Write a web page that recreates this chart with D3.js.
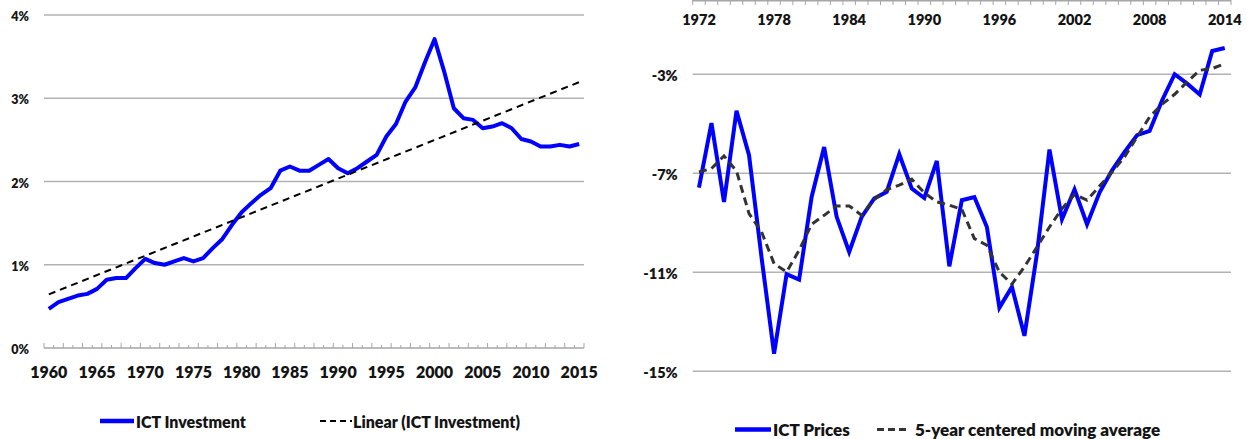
<!DOCTYPE html>
<html><head><meta charset="utf-8">
<script src="https://cdn.jsdelivr.net/npm/d3@7"></script>
<style>
body{margin:0;background:#fff}
svg{display:block}
text{font-family:Lato,'Open Sans',sans-serif;font-weight:800}
</style>
</head><body>
<svg id="chart" width="1247" height="439"></svg>
<script>
// ---------- Left chart data: ICT investment (% of GDP) ----------
const investYears = [1960,1961,1962,1963,1964,1965,1966,1967,1968,1969,
  1970,1971,1972,1973,1974,1975,1976,1977,1978,1979,
  1980,1981,1982,1983,1984,1985,1986,1987,1988,1989,
  1990,1991,1992,1993,1994,1995,1996,1997,1998,1999,
  2000,2001,2002,2003,2004,2005,2006,2007,2008,2009,
  2010,2011,2012,2013,2014,2015];
const ictInvestment = [0.47,0.55,0.59,0.63,0.65,0.71,0.82,0.84,0.84,0.96,
  1.07,1.02,1.00,1.04,1.08,1.04,1.08,1.20,1.31,1.48,
  1.63,1.74,1.84,1.92,2.13,2.18,2.13,2.13,2.20,2.27,
  2.16,2.10,2.16,2.24,2.32,2.54,2.69,2.96,3.13,3.43,
  3.71,3.32,2.88,2.76,2.74,2.64,2.66,2.70,2.64,2.51,
  2.48,2.42,2.42,2.44,2.42,2.45];
const investTickYears = [1960,1965,1970,1975,1980,1985,1990,1995,2000,2005,2010,2015];
const investYTicks = [0,1,2,3,4];
const investLegend = ["ICT Investment","Linear (ICT Investment)"];

// ---------- Right chart data: ICT prices (% change) ----------
const priceYears = [1972,1973,1974,1975,1976,1977,1978,1979,1980,1981,
  1982,1983,1984,1985,1986,1987,1988,1989,1990,1991,
  1992,1993,1994,1995,1996,1997,1998,1999,2000,2001,
  2002,2003,2004,2005,2006,2007,2008,2009,2010,2011,
  2012,2013,2014];
const ictPrices = [-7.58,-4.97,-8.16,-4.48,-6.27,-10.4,-14.29,-11.08,-11.30,-7.96,
  -5.94,-8.76,-10.18,-8.76,-8.02,-7.75,-6.23,-7.62,-8.00,-6.50,
  -10.76,-8.09,-7.96,-9.17,-12.43,-11.59,-13.57,-10.25,-6.04,-8.86,
  -7.66,-9.06,-7.78,-6.88,-6.14,-5.46,-5.29,-4.05,-3.00,-3.38,
  -3.82,-2.06,-1.94];
const movingAverage = [-6.95,-6.81,-6.30,-6.91,-8.63,-9.37,-10.65,-10.99,-10.11,-9.06,
  -8.70,-8.32,-8.32,-8.70,-8.06,-7.66,-7.48,-7.24,-7.79,-8.16,
  -8.29,-8.46,-9.64,-9.91,-10.99,-11.48,-10.78,-9.98,-9.17,-8.43,
  -7.86,-8.09,-7.52,-6.95,-6.34,-5.53,-4.72,-4.21,-3.81,-3.31,
  -2.84,-2.77,-2.57];
const priceTickYears = [1972,1978,1984,1990,1996,2002,2008,2014];
const priceYTicks = [-3,-7,-11,-15];
const priceLegend = ["ICT Prices","5-year centered moving average"];

const BLUE = "#0000ff", GRID = "#b2b2b2", AXIS = "#a6a6a6", TXT = "#141414";
const FW = 800;
const svg = d3.select("#chart");

// ================= LEFT CHART =================
const xL = d3.scaleBand().domain(investYears).range([44, 584]);
const yL = d3.scaleLinear().domain([0, 4]).range([348, 15]);
const bwL = xL.bandwidth();
const cxL = yr => xL(yr) + bwL / 2;
const L = svg.append("g");

L.selectAll(".gl").data(investYTicks.filter(d => d > 0)).join("line")
  .attr("x1", 44).attr("x2", 584)
  .attr("y1", d => yL(d)).attr("y2", d => yL(d))
  .attr("stroke", GRID).attr("stroke-width", 1.5);

// baseline with year tick marks at category boundaries
L.append("line").attr("x1", 44).attr("x2", 584)
  .attr("y1", yL(0)).attr("y2", yL(0)).attr("stroke", AXIS).attr("stroke-width", 1.3);
const bounds = investYears.map(y => xL(y)).concat([xL(investYears[investYears.length-1]) + bwL]);
L.selectAll(".tk").data(bounds).join("line")
  .attr("x1", d => d).attr("x2", d => d)
  .attr("y1", yL(0)).attr("y2", (d, i) => yL(0) - (i % 2 === 0 ? 5 : 3))
  .attr("stroke", AXIS).attr("stroke-width", 1);

// x labels
const axL = L.append("g").attr("transform", `translate(0,${yL(0)})`)
  .call(d3.axisBottom(xL).tickValues(investTickYears).tickSize(0).tickPadding(18.5));
axL.select(".domain").remove();
axL.selectAll("text").attr("font-size", 16).attr("font-family", "Lato").attr("font-weight", FW).attr("fill", TXT);

// y labels
const ayL = L.append("g").attr("transform", "translate(44,0)")
  .call(d3.axisLeft(yL).tickValues(investYTicks).tickFormat(d => d + "%").tickSize(0).tickPadding(15));
ayL.select(".domain").remove();
ayL.selectAll("text").attr("font-size", 12.5).attr("font-family", "Lato").attr("font-weight", FW).attr("fill", TXT).attr("dy", "0.45em");

// linear trend (least squares of the series)
const n = investYears.length;
const mx = d3.mean(investYears), my = d3.mean(ictInvestment);
const slope = d3.sum(investYears, (x, i) => (x - mx) * (ictInvestment[i] - my)) /
              d3.sum(investYears, x => (x - mx) * (x - mx));
const trend = [investYears[0], investYears[n-1]].map(x => [x, my + slope * (x - mx)]);

const lineL = d3.line().x(d => cxL(d[0])).y(d => yL(d[1]));
L.append("path").datum(investYears.map((y, i) => [y, ictInvestment[i]]))
  .attr("d", lineL).attr("fill", "none").attr("stroke", BLUE)
  .attr("stroke-width", 4).attr("stroke-linejoin", "round");
L.append("path").datum(trend).attr("d", lineL).attr("fill", "none")
  .attr("stroke", "#000").attr("stroke-width", 2).attr("stroke-dasharray", "7,5");

// legend
L.append("line").attr("x1", 100).attr("x2", 134).attr("y1", 421).attr("y2", 421)
  .attr("stroke", BLUE).attr("stroke-width", 4.5);
L.append("text").attr("x", 136).attr("y", 428).attr("font-size", 16).attr("fill", TXT).text(investLegend[0]);
L.append("line").attr("x1", 320).attr("x2", 352).attr("y1", 421).attr("y2", 421)
  .attr("stroke", "#000").attr("stroke-width", 2).attr("stroke-dasharray", "6,4");
L.append("text").attr("x", 353).attr("y", 428).attr("font-size", 16).attr("fill", TXT).text(investLegend[1]);

// ================= RIGHT CHART =================
const xR = d3.scaleBand().domain(priceYears).range([692.7, 1231]);
const yR = d3.scaleLinear().domain([-15, 0]).range([371.25, 0]);
const bwR = xR.bandwidth();
const cxR = yr => xR(yr) + bwR / 2;
const R = svg.append("g");

R.selectAll(".gr").data(priceYTicks).join("line")
  .attr("x1", 692.7).attr("x2", 1231)
  .attr("y1", d => yR(d)).attr("y2", d => yR(d))
  .attr("stroke", GRID).attr("stroke-width", 1.5);

// top axis (value 0) with boundary ticks
R.append("line").attr("x1", 692.7).attr("x2", 1231).attr("y1", 0.7).attr("y2", 0.7)
  .attr("stroke", AXIS).attr("stroke-width", 1.4);
const boundsR = priceYears.map(y => xR(y)).concat([xR(priceYears[priceYears.length-1]) + bwR]);
R.selectAll(".tkr").data(boundsR).join("line")
  .attr("x1", d => d).attr("x2", d => d).attr("y1", yR(0)).attr("y2", yR(0) + 5)
  .attr("stroke", AXIS).attr("stroke-width", 1);

const axR = R.append("g").attr("transform", `translate(0,${yR(0)})`)
  .call(d3.axisBottom(xR).tickValues(priceTickYears).tickSize(0).tickPadding(15));
axR.select(".domain").remove();
axR.selectAll("text").attr("font-size", 14.5).attr("font-family", "Lato").attr("font-weight", FW).attr("fill", TXT);

const ayR = R.append("g").attr("transform", "translate(692.7,0)")
  .call(d3.axisLeft(yR).tickValues(priceYTicks).tickFormat(d => d + "%").tickSize(0).tickPadding(15));
ayR.select(".domain").remove();
ayR.selectAll("text").attr("font-size", 14.5).attr("font-family", "Lato").attr("font-weight", FW).attr("fill", TXT).attr("dy", "0.4em");

const lineR = d3.line().x(d => cxR(d[0])).y(d => yR(d[1]));
R.append("path").datum(priceYears.map((y, i) => [y, ictPrices[i]]))
  .attr("d", lineR).attr("fill", "none").attr("stroke", BLUE)
  .attr("stroke-width", 4).attr("stroke-linejoin", "miter");
R.append("path").datum(priceYears.map((y, i) => [y, movingAverage[i]]))
  .attr("d", lineR).attr("fill", "none").attr("stroke", "#333")
  .attr("stroke-width", 3).attr("stroke-dasharray", "8,5");

// legend
R.append("line").attr("x1", 735).attr("x2", 771).attr("y1", 429.5).attr("y2", 429.5)
  .attr("stroke", BLUE).attr("stroke-width", 4.5);
R.append("text").attr("x", 773).attr("y", 436).attr("font-size", 17).attr("fill", TXT).text(priceLegend[0]);
R.append("line").attr("x1", 877).attr("x2", 909).attr("y1", 429.5).attr("y2", 429.5)
  .attr("stroke", "#333").attr("stroke-width", 3).attr("stroke-dasharray", "7,4");
R.append("text").attr("x", 915).attr("y", 436).attr("font-size", 17).attr("fill", TXT).text(priceLegend[1]);
</script>
</body></html>
